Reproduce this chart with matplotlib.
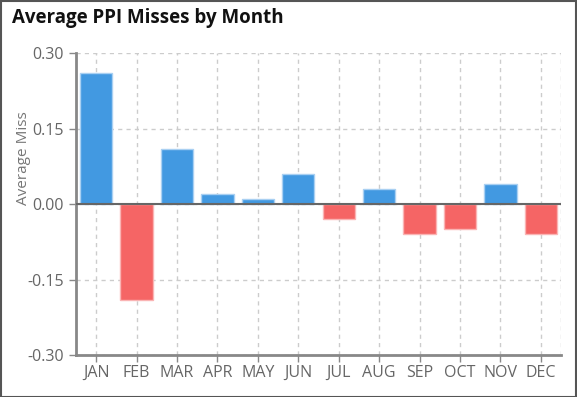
import matplotlib
matplotlib.use("Agg")
import matplotlib.pyplot as plt
from matplotlib.patches import Rectangle

months = ["JAN", "FEB", "MAR", "APR", "MAY", "JUN", "JUL", "AUG", "SEP", "OCT", "NOV", "DEC"]
avg_miss = [0.26, -0.19, 0.11, 0.02, 0.01, 0.06, -0.03, 0.03, -0.06, -0.05, 0.04, -0.06]
y_ticks = [-0.30, -0.15, 0.00, 0.15, 0.30]

plt.rcParams["font.family"] = ["Open Sans", "DejaVu Sans"]

fig = plt.figure(figsize=(5.77, 3.97), dpi=100)
ax = fig.add_axes([76 / 577, 42 / 397, 485 / 577, 302 / 397])

x = list(range(len(months)))
colors = ["#4299e1" if v >= 0 else "#f56565" for v in avg_miss]
edges = ["#a9d0f2" if v >= 0 else "#fab4b4" for v in avg_miss]
ax.bar(x, avg_miss, width=0.8, color=colors, edgecolor=edges, linewidth=1, zorder=3)

ax.set_xlim(-0.5, len(months) - 0.5)
ax.set_ylim(-0.30, 0.30)
ax.set_xticks(x)
ax.set_xticklabels(months)
ax.set_yticks(y_ticks)
ax.set_yticklabels([f"{t:.2f}" for t in y_ticks])

ax.grid(True, color="#cccccc", linestyle=(0, (3, 3)), linewidth=1, zorder=0)
ax.axvline(len(months) - 0.5, color="#cccccc", linestyle=(0, (3, 3)), linewidth=1, zorder=0)
ax.axhline(0, color="#666666", linewidth=1.5, zorder=4)

for side in ["top", "right"]:
    ax.spines[side].set_visible(False)
for side in ["left", "bottom"]:
    ax.spines[side].set_color("#888888")
    ax.spines[side].set_linewidth(2)

ax.tick_params(axis="both", colors="#888888", labelcolor="#666666", labelsize=11.5, length=5, width=1)
ax.tick_params(axis="x", pad=2)
ax.set_ylabel("Average Miss", color="#777777", fontsize=11, va="center")
ax.yaxis.set_label_coords(-0.109, 0.652)

fig.text(12 / 577, 1 - 18 / 397, "Average PPI Misses by Month", fontsize=13.5, fontweight="bold",
         color="#111111", va="center", ha="left")

fig.patches.append(Rectangle((0.5 / 577, 0.5 / 397), 1 - 1.5 / 577, 1 - 1.5 / 397,
                             transform=fig.transFigure, fill=False, edgecolor="#555555", linewidth=1.5))

fig.savefig("out.png", dpi=100)
